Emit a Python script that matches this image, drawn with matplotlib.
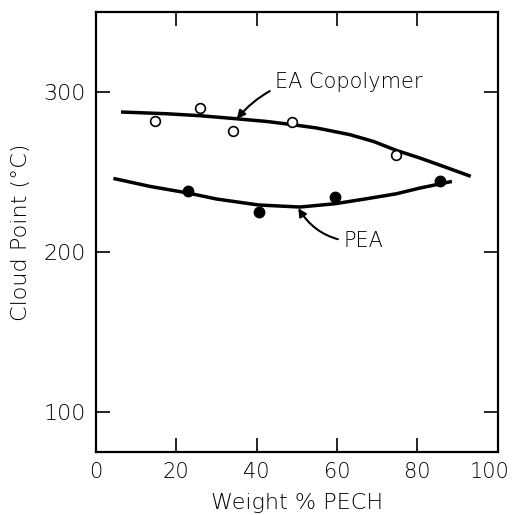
import matplotlib
matplotlib.use('Agg')
import matplotlib.pyplot as plt
import matplotlib.transforms as mtransforms

# ---- data ----
ea_x = [14.8, 25.9, 34.1, 48.9, 74.8]
ea_y = [282, 290, 275.5, 281, 260.5]
pea_x = [22.9, 40.5, 59.6, 85.6]
pea_y = [238, 225, 234.5, 244.5]

# hand-drawn trend curves
ea_curve_x = [6.3, 17.7, 25.9, 34.9, 42.5, 48.9, 55.0, 63.3, 69.1, 74.8, 80.7, 86.5, 93.3]
ea_curve_y = [287.5, 286.4, 285.2, 283.3, 281.6, 279.6, 277.5, 273.3, 269.1, 263.5, 258.7, 253.5, 247.3]
pea_curve_x = [4.4, 13.5, 22.9, 30.1, 40.5, 50.8, 59.6, 67.4, 74.8, 80.7, 88.6]
pea_curve_y = [246.0, 241.0, 236.9, 233.1, 229.4, 228.1, 230.2, 233.3, 236.4, 240.0, 244.1]

plt.rcParams['font.family'] = 'DejaVu Sans'
plt.rcParams['font.weight'] = 'light'
plt.rcParams['axes.labelweight'] = 'light'

fig = plt.figure(figsize=(5.16, 5.15), dpi=100)
ax = fig.add_axes([0.1855, 0.1223, 0.779, 0.8544])

ax.plot(ea_curve_x, ea_curve_y, color='black', lw=2.5, solid_capstyle='butt')
ax.plot(pea_curve_x, pea_curve_y, color='black', lw=2.5, solid_capstyle='butt')
ax.plot(ea_x, ea_y, 'o', mfc='white', mec='black', mew=1.2, ms=7, zorder=3)
ax.plot(pea_x, pea_y, 'o', color='black', ms=7.5, zorder=3)

# curve labels with curved arrows
ax.annotate('EA Copolymer', xy=(35.1, 283.3), xytext=(44.6, 306.5),
            fontsize=15, va='center', ha='left',
            arrowprops=dict(arrowstyle='-|>', color='black', lw=1.5,
                            connectionstyle='arc3,rad=0.3', shrinkA=2, shrinkB=0,
                            mutation_scale=12))
ax.annotate('PEA', xy=(50.4, 227.4), xytext=(61.6, 206.6),
            fontsize=15, va='center', ha='left',
            arrowprops=dict(arrowstyle='-|>', color='black', lw=1.5,
                            connectionstyle='arc3,rad=-0.3', shrinkA=2, shrinkB=0,
                            mutation_scale=12))

ax.set_xlim(0, 100)
ax.set_ylim(75, 350)
ax.set_xticks([0, 20, 40, 60, 80, 100])
ax.set_yticks([100, 200, 300])
ax.tick_params(direction='in', length=10, width=1.2, top=True, right=True,
               labelsize=16, pad=7)
ax.tick_params(axis='x', labelsize=15)
for s in ax.spines.values():
    s.set_linewidth(1.6)

# nudge the "100" label so it stays inside the canvas
last = ax.get_xticklabels()[-1]
last.set_transform(last.get_transform() +
                   mtransforms.ScaledTranslation(-6 / 72, 0, fig.dpi_scale_trans))

ax.set_xlabel('Weight % PECH', fontsize=16, labelpad=8)
ax.set_ylabel('Cloud Point (°C)', fontsize=16, labelpad=9)

fig.savefig('out.png', dpi=100)
